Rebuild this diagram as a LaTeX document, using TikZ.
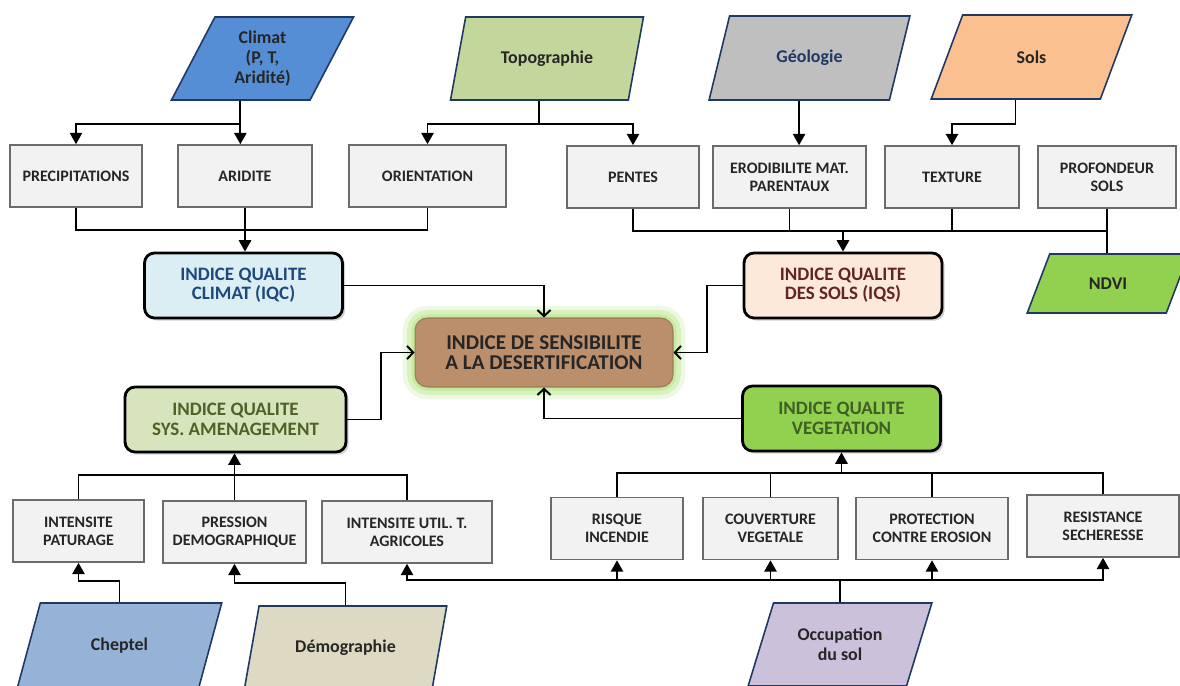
\documentclass[tikz,border=0pt]{standalone}
\usepackage{fontspec}
\setmainfont{Carlito}
\usetikzlibrary{arrows.meta,shapes.geometric,shadows,calc}

\definecolor{cClimat}{HTML}{558ED5}
\definecolor{cTopo}{HTML}{C3D69B}
\definecolor{cGeol}{HTML}{BFBFBF}
\definecolor{cSols}{HTML}{FAC090}
\definecolor{cNdvi}{HTML}{92D050}
\definecolor{cCheptel}{HTML}{95B3D7}
\definecolor{cDemog}{HTML}{DDD9C3}
\definecolor{cOccup}{HTML}{CCC1DA}
\definecolor{srcline}{HTML}{1F3864}
\definecolor{boxgray}{HTML}{F2F2F2}
\definecolor{boxline}{HTML}{6B6B6B}
\definecolor{iqcfill}{HTML}{DBEEF4}
\definecolor{iqctext}{HTML}{1F497D}
\definecolor{iqsfill}{HTML}{FDE9D9}
\definecolor{iqstext}{HTML}{632523}
\definecolor{iqafill}{HTML}{D7E4BD}
\definecolor{iqatext}{HTML}{4F6228}
\definecolor{iqvfill}{HTML}{92D050}
\definecolor{iqvtext}{HTML}{3F5F25}
\definecolor{isdfill}{HTML}{BB8E6C}
\definecolor{isdglow}{HTML}{B8E68A}

\tikzset{
  src/.style={trapezium, trapezium left angle=65, trapezium right angle=115,
    trapezium stretches=true, draw=srcline, line width=0.9pt, align=center,
    inner sep=1pt, text=black!85, font=\bfseries\fontsize{10.2}{11.3}\selectfont},
  var/.style={draw=boxline, fill=boxgray, line width=0.9pt, minimum height=1.24cm,
    align=center, inner sep=1pt, text=black!85, font=\bfseries\fontsize{9.1}{10.2}\selectfont},
  idx/.style={draw=black, line width=1.6pt, rounded corners=0.2cm,
    minimum width=3.96cm, minimum height=1.3cm, align=center,
    font=\bfseries\fontsize{10.8}{11}\selectfont,
    drop shadow={shadow xshift=1.5pt, shadow yshift=-1.5pt, opacity=0.35}},
  isdbox/.style={rounded corners=0.25cm, fill=isdfill, draw=isdfill!85!black,
    line width=0.6pt, minimum width=5.16cm, minimum height=1.38cm, align=center,
    text=black!85, font=\bfseries\fontsize{12}{11.5}\selectfont,
    preaction={draw=isdglow, line width=14pt, opacity=0.25},
    preaction={draw=isdglow, line width=9pt, opacity=0.4},
    preaction={draw=isdglow, line width=4pt, opacity=0.6}},
  arr/.style={-{Triangle[width=7pt,length=6.5pt]}},
  oarr/.style={-{Straight Barb[width=7.5pt,length=3.5pt]}},
}

\begin{document}
\begin{tikzpicture}[x=0.02cm, y=-0.02cm, line width=1.1pt]
    \useasboundingbox (0,0) rectangle (1180,686);
    % Sources
    \node[src, fill=cClimat, minimum width=3.66cm, minimum height=1.66cm] (climat) at (262.5,58.5) {Climat\\(P, T,\\Aridité)};
    \node[src, fill=cTopo, minimum width=3.88cm, minimum height=1.66cm] (topo) at (547,58.5) {Topographie};
    \node[src, fill=cGeol, text=srcline, minimum width=4.02cm, minimum height=1.68cm] (geol) at (809.5,58) {Géologie};
    \node[src, fill=cSols, minimum width=4.02cm, minimum height=1.68cm] (sols) at (1031.5,57) {Sols};
    \node[src, fill=cNdvi, trapezium left angle=62, trapezium right angle=118, minimum width=3.24cm, minimum height=1.18cm] (ndvi) at (1108,283.5) {NDVI};
    \node[src, fill=cCheptel, minimum width=4.1cm, minimum height=1.7cm] (cheptel) at (119.5,645.5) {Cheptel};
    \node[src, fill=cDemog, minimum width=4.06cm, minimum height=1.68cm] (demog) at (345.5,648) {Démographie};
    \node[src, fill=cOccup, minimum width=3.68cm, minimum height=1.66cm] (occup) at (840,644.5) {Occupation\\du sol};
    % Parametres
    \node[var, minimum width=2.64cm] (precip) at (76,176) {PRECIPITATIONS};
    \node[var, minimum width=2.68cm] (aridite) at (245,176) {ARIDITE};
    \node[var, minimum width=3.14cm] (orient) at (427.5,176) {ORIENTATION};
    \node[var, minimum width=2.64cm] (pentes) at (633,177) {PENTES};
    \node[var, minimum width=3.06cm] (erod) at (789.5,177) {ERODIBILITE MAT.\\PARENTAUX};
    \node[var, minimum width=2.68cm] (texture) at (952,177) {TEXTURE};
    \node[var, minimum width=2.76cm] (prof) at (1107,177) {PROFONDEUR\\SOLS};
    \node[var, minimum width=2.62cm] (paturage) at (78.5,531) {INTENSITE\\PATURAGE};
    \node[var, minimum width=2.86cm] (pression) at (234.5,532) {PRESSION\\DEMOGRAPHIQUE};
    \node[var, minimum width=3.4cm] (util) at (407,532) {INTENSITE UTIL. T.\\AGRICOLES};
    \node[var, minimum width=2.64cm] (risque) at (617,528.5) {RISQUE\\INCENDIE};
    \node[var, minimum width=2.7cm] (couv) at (770.5,528.5) {COUVERTURE\\VEGETALE};
    \node[var, minimum width=3.04cm] (protect) at (932,528.5) {PROTECTION\\CONTRE EROSION};
    \node[var, minimum width=3.04cm] (resist) at (1103,526) {RESISTANCE\\SECHERESSE};
    % Indices
    \node[idx, fill=iqcfill, text=iqctext] (iqc) at (243.5,285.5) {INDICE QUALITE\\CLIMAT (IQC)};
    \node[idx, fill=iqsfill, text=iqstext] (iqs) at (843,285.5) {INDICE QUALITE\\DES SOLS (IQS)};
    \node[idx, fill=iqafill, text=iqatext, minimum width=4.42cm] (iqa) at (235.5,419.5) {INDICE QUALITE\\SYS. AMENAGEMENT};
    \node[idx, fill=iqvfill, text=iqvtext] (iqv) at (841.5,418.5) {INDICE QUALITE\\VEGETATION};
    \node[isdbox] (isd) at (544,352.5) {INDICE DE SENSIBILITE\\A LA DESERTIFICATION};
    % Climat
    \draw[arr] (climat.bottom side) -- (climat.bottom side |- aridite.north);
    \draw[arr] (climat.bottom side) -- ++(0,23) -| (precip.north);
    % Topographie, geologie, sols
    \draw[arr] (topo.bottom side) -- ++(0,23) -| (orient.north);
    \draw[arr] (topo.bottom side) -- ++(0,23) -| (pentes.north);
    \draw[arr] (geol.bottom side) -- (geol.bottom side |- erod.north);
    \draw[arr] (sols.bottom side) -- ++(0,24) -| (texture.north);
    % vers IQC
    \draw (precip.south) -- ++(0,22) -| (orient.south);
    \draw[arr] (aridite.south) -- (aridite.south |- iqc.north);
    % vers IQS
    \draw (pentes.south) -- ++(0,22) -| (prof.south);
    \foreach \n in {erod,texture}
        \draw (\n.south) -- ++(0,22);
    \draw[arr] ($(pentes.south)+(0,22)$) -| (iqs.north);
    \draw (prof.south) -- (prof.south |- ndvi.north);
    % vers ISD
    \draw[oarr] (iqc.east) -| (isd.north);
    \draw[oarr] (iqs.west) -- ++(-36,0) |- (isd.east);
    \draw[oarr] (iqa.east) -- ++(34,0) |- (isd.west);
    \draw[oarr] (iqv.west) -| (isd.south);
    % Amenagement
    \draw (paturage.north) -- ++(0,-24) -| (util.north);
    \draw[arr] (pression.north) -- (pression.north |- iqa.south);
    \draw[arr] (cheptel.north) -- ++(0,-21) -| (paturage.south);
    \draw[arr] (demog.north) -- ++(0,-22) -| (pression.south);
    % Vegetation
    \draw (risque.north) -- ++(0,-24) -| (resist.north);
    \foreach \n in {couv,protect}
        \draw (\n.north) -- ++(0,-24);
    \draw[arr] ($(risque.north)+(0,-24)$) -| (iqv.south);
    % Occupation du sol
    \draw (occup.north) -- ++(0,-22) coordinate (ofork);
    \foreach \n in {util,risque,couv,protect,resist}
        \draw[arr] (ofork) -| (\n.south);
\end{tikzpicture}
\end{document}
